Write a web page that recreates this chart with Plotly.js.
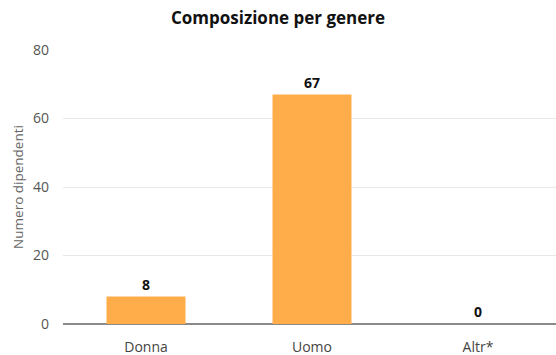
<!DOCTYPE html>
<html><head><meta charset="utf-8">
<script src="https://cdn.plot.ly/plotly-3.0.1.min.js"></script>
<style>html,body{margin:0;padding:0;background:#fff}#c{width:556px;height:355px}</style>
</head><body><div id="c"></div>
<script>
const categories = ["Donna", "Uomo", "Altr*"];
const values = [8, 67, 0];
const yTicks = [0, 20, 40, 60, 80];

const trace = {
  type: "bar",
  x: categories,
  y: values,
  width: 0.476,
  marker: {color: "#ffad4b"},
  text: values.map(String),
  textposition: "outside",
  cliponaxis: false,
  textfont: {family: "Open Sans, sans-serif", size: 14, color: "#111", weight: "bold"},
  hoverinfo: "x+y"
};

const layout = {
  width: 556, height: 355,
  margin: {l: 63, r: 0, t: 50, b: 31},
  paper_bgcolor: "#fff", plot_bgcolor: "#fff",
  font: {family: "Open Sans, sans-serif", color: "#555"},
  title: {text: "<b>Composizione per genere</b>", x: 0.5, xanchor: "center", y: 0.95, yanchor: "middle",
          font: {size: 17, color: "#111"}},
  xaxis: {range: [-0.5, 2.47], showgrid: false, showline: false, zeroline: false,
          tickfont: {size: 14, color: "#444"}, ticks: "", ticklabelstandoff: 13, fixedrange: true},
  yaxis: {range: [0, 80], tickvals: yTicks, showgrid: true, gridcolor: "#e8e8e8", gridwidth: 1,
          zeroline: true, zerolinecolor: "#8a8a8a", zerolinewidth: 1.5,
          tickfont: {size: 14, color: "#555"}, ticks: "", ticklabelstandoff: 13,
          title: {text: "Numero dipendenti", font: {size: 13.5, color: "#666"}, standoff: 6}},
  showlegend: false,
  bargap: 0.5
};

Plotly.newPlot("c", [trace], layout, {displayModeBar: false, staticPlot: true});
</script></body></html>
